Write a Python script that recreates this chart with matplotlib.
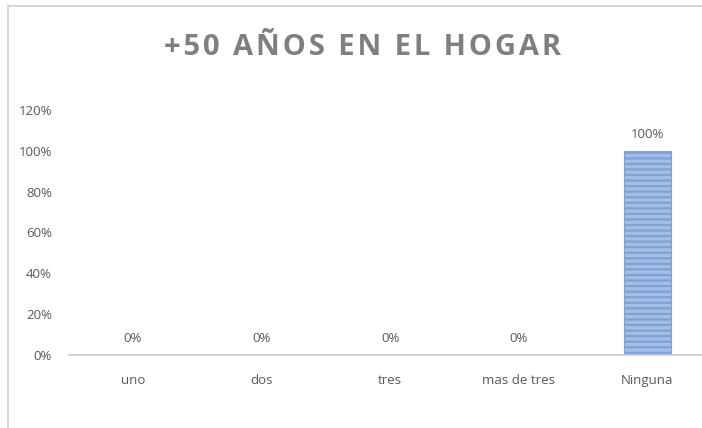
import matplotlib.pyplot as plt
from matplotlib.lines import Line2D

categories = ["uno", "dos", "tres", "mas de tres", "Ninguna"]
values = [0, 0, 0, 0, 100]
yticks = [0, 20, 40, 60, 80, 100, 120]
title = "+50 AÑOS EN EL HOGAR"

plt.rcParams['font.family'] = ['Open Sans', 'DejaVu Sans']
plt.rcParams['hatch.color'] = '#4a7cc0'
plt.rcParams['hatch.linewidth'] = 1.6

fig = plt.figure(figsize=(7.02, 4.28), dpi=100)
ax = fig.add_axes([0.0976, 0.1706, 0.9164, 0.5724])

x = range(len(categories))
bars = ax.bar(x, values, width=0.37, color='#a3bde5', edgecolor='#7fa2d6',
              linewidth=0.8, hatch='---', zorder=2)

for b, v in zip(bars, values):
    ax.text(b.get_x() + b.get_width() / 2, v + 5, f"{v}%", ha='center', va='bottom',
            fontsize=9.5, color='#595959')

ax.set_xlim(-0.5, len(categories) - 0.5)
ax.set_ylim(0, 120)
ax.set_yticks(yticks)
ax.set_yticklabels([f"{t}%" for t in yticks])
ax.set_xticks(list(x))
ax.set_xticklabels(categories)
ax.tick_params(axis='both', length=0, labelsize=9.5, labelcolor='#595959')
ax.tick_params(axis='y', pad=12)
ax.tick_params(axis='x', pad=14)

for s in ['top', 'right', 'left']:
    ax.spines[s].set_visible(False)
ax.spines['bottom'].set_color('#c8c8c8')
ax.spines['bottom'].set_linewidth(1.2)

# letter-spaced title
spaced = "\u200a".join(title)
fig.text(0.516, 0.888, spaced, ha='center', va='center',
         fontsize=21, fontweight='bold', color='#7f7f7f')

# outer chart frame
fig.add_artist(Line2D([0.012, 0.012], [0.0, 0.986], color='#d0d0d0', lw=1.2))
fig.add_artist(Line2D([0.012, 1.0], [0.986, 0.986], color='#d0d0d0', lw=1.2))

fig.savefig("out.png", dpi=100)
